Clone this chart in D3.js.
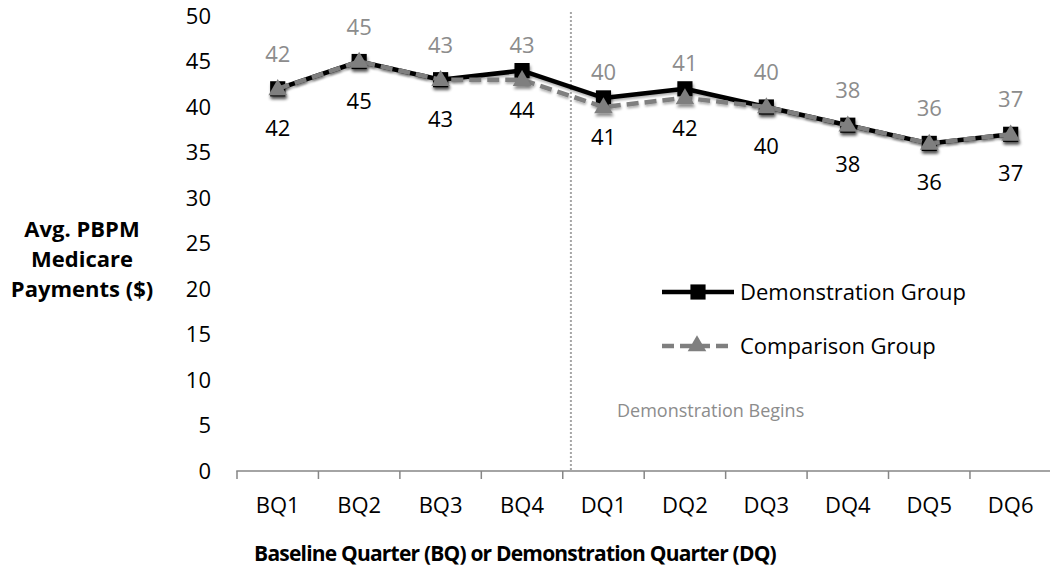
<!DOCTYPE html>
<html>
<head>
<meta charset="utf-8">
<script src="https://cdn.jsdelivr.net/npm/d3@7/dist/d3.min.js"></script>
<style>
  html, body { margin: 0; padding: 0; background: #fff; }
  svg { display: block; font-family: "Open Sans", "DejaVu Sans", sans-serif; }
</style>
</head>
<body>
<svg id="chart" width="1050" height="568"></svg>
<script>
// Quarters on the x axis
const quarters = ["BQ1", "BQ2", "BQ3", "BQ4", "DQ1", "DQ2", "DQ3", "DQ4", "DQ5", "DQ6"];
// Average per-beneficiary-per-month Medicare payments ($)
const demonstration = [42, 45, 43, 44, 41, 42, 40, 38, 36, 37];
const comparison    = [42, 45, 43, 43, 40, 41, 40, 38, 36, 37];
const yTicks = [0, 5, 10, 15, 20, 25, 30, 35, 40, 45, 50];
const seriesNames = ["Demonstration Group", "Comparison Group"];
const startQuarter = "DQ1";

const svg = d3.select("#chart");

const x = d3.scaleBand().domain(quarters).range([237, 1051.4]).padding(0);
const y = d3.scaleLinear().domain([0, 50]).range([471, 16]);
const cx = q => x(q) + x.bandwidth() / 2;

const GRAY = "#7f7f7f";
const AXIS = "#868686";

// soft drop shadow for the markers and lines
const defs = svg.append("defs");
const f = defs.append("filter").attr("id", "shadow")
  .attr("x", "-50%").attr("y", "-50%").attr("width", "200%").attr("height", "200%");
f.append("feDropShadow").attr("dx", 1).attr("dy", 3).attr("stdDeviation", 1.8)
  .attr("flood-color", "#000").attr("flood-opacity", 0.45);
const fl = defs.append("filter").attr("id", "lshadow")
  .attr("x", "-10%").attr("y", "-50%").attr("width", "120%").attr("height", "200%");
fl.append("feDropShadow").attr("dx", 0.5).attr("dy", 2).attr("stdDeviation", 1.2)
  .attr("flood-color", "#000").attr("flood-opacity", 0.3);

// y tick labels (no axis line)
svg.append("g").selectAll("text").data(yTicks).join("text")
  .attr("x", 211).attr("y", d => y(d)).attr("dy", "0.36em")
  .attr("text-anchor", "end").attr("font-size", 22).attr("fill", "#000")
  .text(d => d);

// x axis: baseline and tick marks at category boundaries
const xAxis = d3.axisBottom(x).tickSize(0).tickFormat("");
const gx = svg.append("g").attr("transform", `translate(0,${y(0)})`).call(xAxis);
gx.select(".domain").attr("stroke", AXIS).attr("stroke-width", 1.5).attr("d", `M${x.range()[0]},0.5V0H${x.range()[1]}`);
gx.selectAll(".tick").remove();
gx.selectAll("line.bound").data(quarters).join("line").attr("class", "bound")
  .attr("x1", d => x(d)).attr("x2", d => x(d)).attr("y1", 0).attr("y2", 8)
  .attr("stroke", AXIS).attr("stroke-width", 1.5);
svg.append("g").selectAll("text").data(quarters).join("text")
  .attr("x", d => cx(d)).attr("y", 513).attr("text-anchor", "middle")
  .attr("font-size", 22).attr("fill", "#000").text(d => d);

// demonstration start marker
const vx = x(startQuarter) + x.bandwidth() * 0.1;
svg.append("line").attr("x1", vx).attr("x2", vx).attr("y1", 12).attr("y2", y(0))
  .attr("stroke", "#a6a6a6").attr("stroke-width", 2).attr("stroke-dasharray", "2,2");
svg.append("text").attr("x", 617).attr("y", 417).attr("font-size", 18)
  .attr("fill", "#8c8c8c").text("Demonstration Begins");

// axis titles
const yt = svg.append("text").attr("text-anchor", "middle").attr("font-size", 22)
  .attr("font-weight", "bold").attr("fill", "#000");
[["Avg. PBPM", 237], ["Medicare", 267], ["Payments ($)", 297]].forEach(([t, yy]) =>
  yt.append("tspan").attr("x", 82).attr("y", yy).text(t));
svg.append("text").attr("x", 515).attr("y", 561).attr("text-anchor", "middle")
  .attr("font-size", 21).attr("font-weight", "bold").attr("letter-spacing", -0.8).attr("fill", "#000")
  .text("Baseline Quarter (BQ) or Demonstration Quarter (DQ)");

const line = d3.line().x((d, i) => cx(quarters[i])).y(d => y(d));
const sq = d3.symbol().type(d3.symbolSquare).size(230);
const tri = d3.symbol().type(d3.symbolTriangle).size(150);

// demonstration series
svg.append("path").datum(demonstration).attr("d", line).attr("fill", "none")
  .attr("stroke", "#000").attr("stroke-width", 4.5).attr("stroke-linejoin", "round")
  .attr("filter", "url(#lshadow)");
svg.append("g").selectAll("path").data(demonstration).join("path")
  .attr("d", sq).attr("transform", (d, i) => `translate(${cx(quarters[i])},${y(d)})`)
  .attr("fill", "#000").attr("filter", "url(#shadow)");

// comparison series
svg.append("path").datum(comparison).attr("d", line).attr("fill", "none")
  .attr("stroke", GRAY).attr("stroke-width", 4.5).attr("stroke-dasharray", "12,6")
  .attr("filter", "url(#lshadow)");
svg.append("g").selectAll("path").data(comparison).join("path")
  .attr("d", tri).attr("transform", (d, i) => `translate(${cx(quarters[i])},${y(d) + 1})`)
  .attr("fill", GRAY).attr("filter", "url(#shadow)");

// value labels
svg.append("g").selectAll("text").data(demonstration).join("text")
  .attr("x", (d, i) => cx(quarters[i])).attr("y", d => y(d) + 47)
  .attr("text-anchor", "middle").attr("font-size", 22).attr("fill", "#000").text(d => d);
svg.append("g").selectAll("text").data(comparison).join("text")
  .attr("x", (d, i) => cx(quarters[i])).attr("y", d => y(d) - 27)
  .attr("text-anchor", "middle").attr("font-size", 22).attr("fill", "#8c8c8c").text(d => d);

// legend
const lg = svg.append("g");
lg.append("line").attr("x1", 662).attr("x2", 734).attr("y1", 292).attr("y2", 292)
  .attr("stroke", "#000").attr("stroke-width", 4.5);
lg.append("path").attr("d", sq).attr("transform", "translate(698,292)").attr("fill", "#000");
lg.append("text").attr("x", 740).attr("y", 300).attr("font-size", 22).attr("fill", "#000").text(seriesNames[0]);
lg.append("line").attr("x1", 662).attr("x2", 734).attr("y1", 346).attr("y2", 346)
  .attr("stroke", GRAY).attr("stroke-width", 4.5).attr("stroke-dasharray", "12,6");
lg.append("path").attr("d", tri).attr("transform", "translate(697,346)").attr("fill", GRAY);
lg.append("text").attr("x", 740).attr("y", 354).attr("font-size", 22).attr("fill", "#000").text(seriesNames[1]);
</script>
</body>
</html>
